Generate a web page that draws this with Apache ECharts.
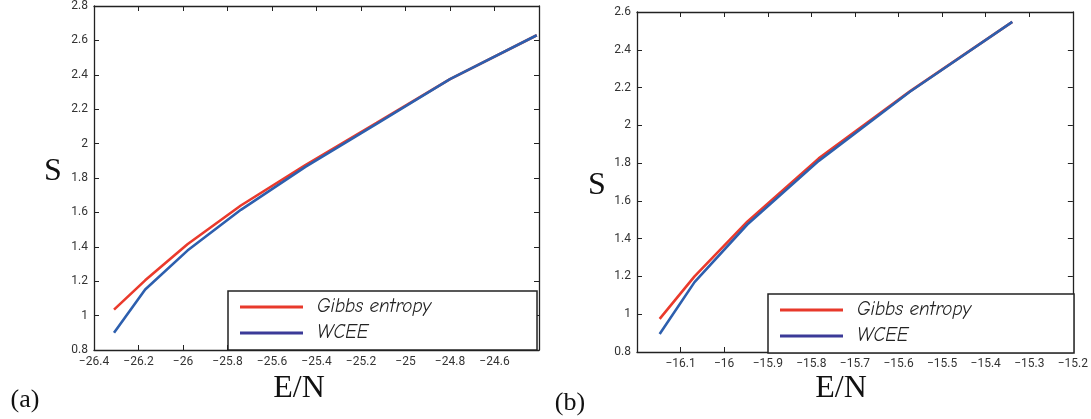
<!DOCTYPE html>
<html>
<head>
<meta charset="utf-8">
<script src="https://cdn.jsdelivr.net/npm/echarts@6/dist/echarts.min.js"></script>
<style>
  html, body { margin: 0; padding: 0; background: #fff; }
  #chart { width: 1091px; height: 419px; }
</style>
</head>
<body>
<div id="chart"></div>
<script>
// panel (a)
const energyA = [-26.31, -26.17, -25.98, -25.74, -25.45, -25.13, -24.8, -24.41];
const gibbsA = [1.035, 1.205, 1.415, 1.64, 1.875, 2.12, 2.375, 2.63];
const wceeA = [0.9, 1.152, 1.378, 1.615, 1.865, 2.115, 2.375, 2.63];

// panel (b)
const energyB = [-16.148, -16.068, -15.947, -15.783, -15.574, -15.339];
const gibbsB = [0.975, 1.2, 1.49, 1.825, 2.18, 2.548];
const wceeB = [0.895, 1.17, 1.475, 1.812, 2.178, 2.548];

const seriesNames = ['Gibbs entropy', 'WCEE'];

const pairs = (xs, ys) => xs.map((x, i) => [x, ys[i]]);
const minus = v => String(v).replace('-', '\u2212');

const chart = echarts.init(document.getElementById('chart'));

const axisLine = { lineStyle: { color: '#222', width: 1.3 } };
const tick = { inside: true, length: 5, lineStyle: { color: '#222', width: 1 } };
const tickFont = { color: '#333', fontSize: 12, fontFamily: '"Liberation Sans Narrow", Roboto, sans-serif' };

function xAxes(grid, min, max, interval, labelExtra) {
  return [
    {
      type: 'value', gridIndex: grid, position: 'bottom', min, max, interval,
      axisLine, axisTick: tick, splitLine: { show: false },
      axisLabel: Object.assign({ margin: 6, formatter: minus }, tickFont, labelExtra)
    },
    {
      type: 'value', gridIndex: grid, position: 'top', min, max, interval,
      axisLine, axisTick: tick, splitLine: { show: false }, axisLabel: { show: false }
    }
  ];
}

function yAxes(grid, min, max, interval) {
  return [
    {
      type: 'value', gridIndex: grid, position: 'left', min, max, interval,
      axisLine, axisTick: tick, splitLine: { show: false },
      axisLabel: Object.assign({ margin: 6, formatter: minus }, tickFont)
    },
    {
      type: 'value', gridIndex: grid, position: 'right', min, max, interval,
      axisLine, axisTick: tick, splitLine: { show: false }, axisLabel: { show: false }
    }
  ];
}

function legendAt(left, top, padRight) {
  return {
    show: true,
    orient: 'vertical', left, top,
    data: [
      { name: seriesNames[0], itemStyle: { color: '#e8392b' } },
      { name: seriesNames[1], itemStyle: { color: '#3b3a98' } }
    ],
    icon: 'rect',
    itemWidth: 63, itemHeight: 3, itemGap: 6,
    padding: [6, padRight, 7, 12],
    borderColor: '#222', borderWidth: 1.5, backgroundColor: '#fff',
    textStyle: {
      fontSize: 19, lineHeight: 20, fontStyle: 'italic', color: '#222', padding: [0, 0, 0, 9],
      fontFamily: '"Comic Sans MS", "Comic Neue", "DejaVu Sans", sans-serif'
    },
    z: 10
  };
}

function line(name, data, xi, color, z) {
  return {
    name, type: 'line', data, xAxisIndex: xi, yAxisIndex: xi,
    showSymbol: false, symbol: 'none', z,
    lineStyle: { color, width: 2.6 }, itemStyle: { color }
  };
}

const serif = 'Liberation Serif, "Times New Roman", serif';
const txt = (x, y, text, size) => ({
  type: 'text', x, y,
  style: { text, fontSize: size, fontFamily: serif, fill: '#111', align: 'center', verticalAlign: 'middle' }
});

chart.setOption({
  animation: false,
  grid: [
    { left: 94, top: 4, right: 552, bottom: 69 },
    { left: 637, top: 12, right: 15, bottom: 67 }
  ],
  xAxis: [
    ...xAxes(0, -26.4, -24.4, 0.2, { showMaxLabel: false }),
    ...xAxes(1, -16.2, -15.2, 0.1, { showMinLabel: false })
  ],
  yAxis: [
    ...yAxes(0, 0.8, 2.8, 0.2),
    ...yAxes(1, 0.8, 2.6, 0.2)
  ],
  legend: [legendAt(228, 291, 106), legendAt(768, 294, 103)],
  series: [
    line(seriesNames[0], pairs(energyA, gibbsA), 0, '#ea3a2c', 2),
    line(seriesNames[1], pairs(energyA, wceeA), 0, '#2d5fae', 3),
    line(seriesNames[0], pairs(energyB, gibbsB), 2, '#ea3a2c', 2),
    line(seriesNames[1], pairs(energyB, wceeB), 2, '#2d5fae', 3)
  ],
  graphic: [
    txt(53, 172, 'S', 32),
    txt(299, 389, 'E/N', 32),
    txt(597, 186, 'S', 32),
    txt(841, 389, 'E/N', 32),
    txt(25, 400, '(a)', 26),
    txt(570, 403, '(b)', 26)
  ]
});
</script>
</body>
</html>
